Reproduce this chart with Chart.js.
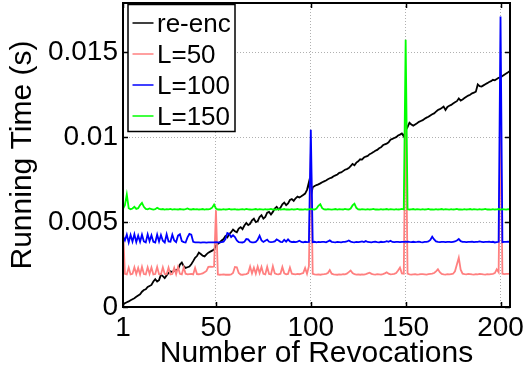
<!DOCTYPE html>
<html>
<head>
<meta charset="utf-8">
<title>Running Time vs Number of Revocations</title>
<script src="https://cdn.jsdelivr.net/npm/chart.js@4.4.1/dist/chart.umd.min.js"></script>
<style>
	html, body { margin: 0; padding: 0; background: #fff; }
</style>
</head>
<body>
<canvas id="runtimeChart" width="525" height="375"></canvas>
<script>
// Running time in seconds, one value per revocation (1..205)
const reEnc = [
	0.00015, 0.00022, 0.00028, 0.00033, 0.00040, 0.00046, 0.00052, 0.00060, 0.00068, 0.00075,
	0.00090, 0.00100, 0.00104, 0.00118, 0.00124, 0.00130, 0.00150, 0.00164, 0.00150, 0.00158,
	0.00190, 0.00182, 0.00170, 0.00186, 0.00200, 0.00210, 0.00206, 0.00214, 0.00218, 0.00222,
	0.00250, 0.00262, 0.00240, 0.00230, 0.00234, 0.00238, 0.00252, 0.00270, 0.00290, 0.00300,
	0.00320, 0.00312, 0.00302, 0.00298, 0.00310, 0.00320, 0.00326, 0.00332, 0.00338, 0.00362,
	0.00372, 0.00380, 0.00392, 0.00400, 0.00418, 0.00410, 0.00430, 0.00440, 0.00456, 0.00446,
	0.00440, 0.00462, 0.00470, 0.00458, 0.00480, 0.00495, 0.00482, 0.00490, 0.00510, 0.00520,
	0.00500, 0.00505, 0.00530, 0.00540, 0.00520, 0.00530, 0.00555, 0.00560, 0.00545, 0.00560,
	0.00580, 0.00590, 0.00575, 0.00585, 0.00605, 0.00615, 0.00600, 0.00610, 0.00630, 0.00636,
	0.00625, 0.00640, 0.00650, 0.00645, 0.00652, 0.00660, 0.00668, 0.00690, 0.00735, 0.00650,
	0.00705, 0.00712, 0.00718, 0.00722, 0.00728, 0.00735, 0.00740, 0.00745, 0.00752, 0.00758,
	0.00762, 0.00770, 0.00775, 0.00780, 0.00790, 0.00792, 0.00800, 0.00808, 0.00812, 0.00818,
	0.00830, 0.00842, 0.00835, 0.00850, 0.00858, 0.00870, 0.00868, 0.00880, 0.00886, 0.00890,
	0.00900, 0.00905, 0.00912, 0.00920, 0.00925, 0.00935, 0.00940, 0.00952, 0.00958, 0.00962,
	0.00970, 0.00985, 0.00990, 0.00995, 0.01000, 0.01010, 0.01015, 0.01022, 0.01005, 0.01040,
	0.01060, 0.01085, 0.01075, 0.01068, 0.01075, 0.01082, 0.01090, 0.01095, 0.01100, 0.01108,
	0.01115, 0.01120, 0.01128, 0.01135, 0.01140, 0.01150, 0.01160, 0.01165, 0.01172, 0.01180,
	0.01160, 0.01178, 0.01185, 0.01190, 0.01198, 0.01205, 0.01212, 0.01228, 0.01215, 0.01222,
	0.01230, 0.01238, 0.01245, 0.01250, 0.01258, 0.01262, 0.01268, 0.01310, 0.01300, 0.01298,
	0.01305, 0.01312, 0.01318, 0.01325, 0.01330, 0.01338, 0.01335, 0.01342, 0.01350, 0.01352,
	0.01360, 0.01368, 0.01375, 0.01382, 0.01390
];

const l50 = [
	0.00466, 0.00195, 0.00192, 0.00232, 0.00192, 0.00195, 0.00234, 0.00194, 0.00230, 0.00192,
	0.00236, 0.00194, 0.00192, 0.00234, 0.00195, 0.00232, 0.00192, 0.00194, 0.00236, 0.00193,
	0.00192, 0.00234, 0.00195, 0.00193, 0.00232, 0.00192, 0.00194, 0.00230, 0.00193, 0.00236,
	0.00195, 0.00192, 0.00234, 0.00196, 0.00192, 0.00194, 0.00195, 0.00192, 0.00230, 0.00194,
	0.00193, 0.00195, 0.00198, 0.00205, 0.00212, 0.00236, 0.00238, 0.00236, 0.00238, 0.00570,
	0.00192, 0.00190, 0.00191, 0.00192, 0.00190, 0.00191, 0.00190, 0.00192, 0.00200, 0.00236,
	0.00234, 0.00200, 0.00191, 0.00190, 0.00192, 0.00194, 0.00200, 0.00238, 0.00198, 0.00232,
	0.00196, 0.00238, 0.00200, 0.00236, 0.00195, 0.00192, 0.00236, 0.00194, 0.00192, 0.00240,
	0.00198, 0.00194, 0.00192, 0.00196, 0.00236, 0.00198, 0.00193, 0.00195, 0.00232, 0.00196,
	0.00194, 0.00192, 0.00195, 0.00193, 0.00196, 0.00200, 0.00230, 0.00196, 0.00240, 0.00900,
	0.00195, 0.00192, 0.00191, 0.00192, 0.00190, 0.00192, 0.00193, 0.00195, 0.00200, 0.00218,
	0.00196, 0.00192, 0.00191, 0.00190, 0.00192, 0.00191, 0.00193, 0.00192, 0.00196, 0.00205,
	0.00215, 0.00200, 0.00193, 0.00191, 0.00192, 0.00190, 0.00192, 0.00191, 0.00194, 0.00198,
	0.00202, 0.00195, 0.00192, 0.00191, 0.00193, 0.00192, 0.00191, 0.00194, 0.00198, 0.00204,
	0.00196, 0.00192, 0.00193, 0.00195, 0.00200, 0.00215, 0.00232, 0.00198, 0.00196, 0.01200,
	0.00196, 0.00192, 0.00191, 0.00192, 0.00193, 0.00191, 0.00192, 0.00194, 0.00193, 0.00192,
	0.00191, 0.00193, 0.00195, 0.00196, 0.00200, 0.00210, 0.00222, 0.00205, 0.00195, 0.00192,
	0.00191, 0.00193, 0.00192, 0.00194, 0.00196, 0.00210, 0.00250, 0.00290, 0.00220, 0.00196,
	0.00193, 0.00192, 0.00195, 0.00194, 0.00192, 0.00191, 0.00193, 0.00192, 0.00195, 0.00194,
	0.00192, 0.00191, 0.00193, 0.00192, 0.00194, 0.00195, 0.00200, 0.00222, 0.00205, 0.01100,
	0.00196, 0.00194, 0.00195, 0.00195, 0.00196
];

const l100 = [
	0.00416, 0.00392, 0.00426, 0.00380, 0.00424, 0.00385, 0.00428, 0.00382, 0.00420, 0.00384,
	0.00426, 0.00386, 0.00380, 0.00428, 0.00388, 0.00422, 0.00384, 0.00380, 0.00426, 0.00386,
	0.00424, 0.00390, 0.00380, 0.00428, 0.00386, 0.00384, 0.00426, 0.00392, 0.00382, 0.00420,
	0.00428, 0.00388, 0.00382, 0.00380, 0.00410, 0.00430, 0.00426, 0.00384, 0.00381, 0.00380,
	0.00380, 0.00379, 0.00380, 0.00381, 0.00379, 0.00380, 0.00381, 0.00380, 0.00380, 0.00382,
	0.00381, 0.00380, 0.00382, 0.00385, 0.00400, 0.00436, 0.00430, 0.00412, 0.00422, 0.00412,
	0.00392, 0.00382, 0.00381, 0.00380, 0.00384, 0.00400, 0.00398, 0.00384, 0.00381, 0.00380,
	0.00383, 0.00396, 0.00420, 0.00392, 0.00383, 0.00390, 0.00397, 0.00384, 0.00382, 0.00383,
	0.00386, 0.00398, 0.00392, 0.00384, 0.00382, 0.00396, 0.00385, 0.00398, 0.00386, 0.00382,
	0.00384, 0.00382, 0.00385, 0.00390, 0.00383, 0.00381, 0.00384, 0.00382, 0.00383, 0.01044,
	0.00382, 0.00384, 0.00381, 0.00383, 0.00382, 0.00384, 0.00383, 0.00381, 0.00386, 0.00392,
	0.00384, 0.00382, 0.00381, 0.00383, 0.00382, 0.00381, 0.00383, 0.00384, 0.00386, 0.00392,
	0.00385, 0.00382, 0.00381, 0.00383, 0.00382, 0.00384, 0.00386, 0.00382, 0.00388, 0.00383,
	0.00382, 0.00381, 0.00383, 0.00385, 0.00382, 0.00381, 0.00384, 0.00382, 0.00383, 0.00388,
	0.00384, 0.00390, 0.00383, 0.00382, 0.00384, 0.00383, 0.00382, 0.00384, 0.00383, 0.00384,
	0.00385, 0.00383, 0.00382, 0.00384, 0.00382, 0.00383, 0.00385, 0.00382, 0.00381, 0.00383,
	0.00384, 0.00386, 0.00395, 0.00414, 0.00398, 0.00386, 0.00383, 0.00382, 0.00384, 0.00383,
	0.00382, 0.00384, 0.00383, 0.00382, 0.00384, 0.00386, 0.00392, 0.00400, 0.00388, 0.00384,
	0.00383, 0.00382, 0.00384, 0.00383, 0.00385, 0.00382, 0.00384, 0.00383, 0.00386, 0.00384,
	0.00382, 0.00384, 0.00383, 0.00385, 0.00382, 0.00384, 0.00380, 0.00382, 0.00384, 0.01711,
	0.00382, 0.00384, 0.00383, 0.00385, 0.00384
];

const l150 = [
	0.00578, 0.00600, 0.00662, 0.00582, 0.00576, 0.00580, 0.00590, 0.00578, 0.00582, 0.00600,
	0.00613, 0.00590, 0.00578, 0.00575, 0.00580, 0.00577, 0.00574, 0.00576, 0.00584, 0.00578,
	0.00575, 0.00577, 0.00574, 0.00576, 0.00575, 0.00578, 0.00574, 0.00576, 0.00575, 0.00574,
	0.00577, 0.00575, 0.00574, 0.00576, 0.00580, 0.00575, 0.00574, 0.00577, 0.00575, 0.00576,
	0.00574, 0.00575, 0.00577, 0.00574, 0.00576, 0.00575, 0.00578, 0.00585, 0.00603, 0.00580,
	0.00574, 0.00575, 0.00573, 0.00576, 0.00574, 0.00575, 0.00578, 0.00574, 0.00575, 0.00576,
	0.00574, 0.00573, 0.00575, 0.00576, 0.00574, 0.00578, 0.00575, 0.00574, 0.00573, 0.00575,
	0.00577, 0.00574, 0.00576, 0.00575, 0.00573, 0.00576, 0.00574, 0.00575, 0.00578, 0.00574,
	0.00575, 0.00573, 0.00576, 0.00574, 0.00575, 0.00577, 0.00574, 0.00575, 0.00573, 0.00576,
	0.00574, 0.00575, 0.00578, 0.00574, 0.00575, 0.00573, 0.00576, 0.00574, 0.00575, 0.00578,
	0.00575, 0.00574, 0.00580, 0.00596, 0.00605, 0.00582, 0.00575, 0.00574, 0.00576, 0.00575,
	0.00573, 0.00575, 0.00577, 0.00574, 0.00576, 0.00575, 0.00574, 0.00578, 0.00575, 0.00574,
	0.00580, 0.00598, 0.00608, 0.00584, 0.00575, 0.00574, 0.00576, 0.00575, 0.00573, 0.00576,
	0.00574, 0.00575, 0.00578, 0.00574, 0.00575, 0.00573, 0.00576, 0.00574, 0.00575, 0.00577,
	0.00574, 0.00576, 0.00575, 0.00573, 0.00576, 0.00574, 0.00575, 0.00578, 0.00575, 0.01574,
	0.00576, 0.00574, 0.00575, 0.00577, 0.00574, 0.00576, 0.00575, 0.00573, 0.00576, 0.00574,
	0.00575, 0.00578, 0.00574, 0.00575, 0.00573, 0.00576, 0.00574, 0.00575, 0.00577, 0.00574,
	0.00576, 0.00575, 0.00573, 0.00576, 0.00574, 0.00575, 0.00578, 0.00574, 0.00575, 0.00573,
	0.00576, 0.00574, 0.00575, 0.00577, 0.00574, 0.00576, 0.00575, 0.00573, 0.00576, 0.00574,
	0.00575, 0.00578, 0.00574, 0.00575, 0.00573, 0.00576, 0.00574, 0.00575, 0.00577, 0.00574,
	0.00576, 0.00575, 0.00573, 0.00576, 0.00575
];

const xTicks = [1, 50, 100, 150, 200];
const yTicks = [0, 0.005, 0.01, 0.015];
const yTickLabels = ["0", "0.005", "0.01", "0.015"];

const revocations = reEnc.map((_, i) => i + 1);
const toPoints = (values) => values.map((v, i) => ({ x: revocations[i], y: v }));

const FONT = '"Liberation Sans", Arial, Helvetica, sans-serif';
Chart.defaults.font.family = FONT;
Chart.defaults.color = "#000";

// Black axes box, inward tick marks and a boxed legend in the upper-left corner
const axesBox = {
	id: "axesBox",
	afterDatasetsDraw(chart) {
		const { ctx, chartArea: a, scales } = chart;
		ctx.save();
		ctx.strokeStyle = "#000";
		ctx.lineWidth = 1.5;

		ctx.beginPath();
		scales.x.ticks.forEach((t) => {
			const px = Math.round(scales.x.getPixelForValue(t.value)) + 0.5;
			ctx.moveTo(px, a.bottom);
			ctx.lineTo(px, a.bottom - 5);
			ctx.moveTo(px, a.top);
			ctx.lineTo(px, a.top + 5);
		});
		scales.y.ticks.forEach((t) => {
			const py = Math.round(scales.y.getPixelForValue(t.value)) + 0.5;
			ctx.moveTo(a.left, py);
			ctx.lineTo(a.left + 5, py);
			ctx.moveTo(a.right, py);
			ctx.lineTo(a.right - 5, py);
		});
		ctx.stroke();

		ctx.lineWidth = 2;
		ctx.strokeRect(a.left, a.top, a.right - a.left, a.bottom - a.top);

		// legend
		const lx = a.left + 5;
		const ly = a.top + 1.5;
		const lw = 107;
		const lh = 127;
		ctx.fillStyle = "#fff";
		ctx.fillRect(lx, ly, lw, lh);
		ctx.lineWidth = 1.5;
		ctx.strokeRect(lx, ly, lw, lh);

		ctx.font = "26px " + FONT;
		ctx.textBaseline = "alphabetic";
		ctx.textAlign = "left";
		chart.data.datasets.forEach((ds, i) => {
			const base = ly + 27.5 + i * 31;
			const mid = base - 9;
			ctx.strokeStyle = ds.borderColor;
			ctx.lineWidth = 1.5;
			ctx.beginPath();
			ctx.moveTo(lx + 4.5, mid);
			ctx.lineTo(lx + 25.5, mid);
			ctx.stroke();
			ctx.fillStyle = "#000";
			ctx.fillText(ds.label, lx + 29, base);
		});
		ctx.restore();
	},
};

const ctx = document.getElementById("runtimeChart").getContext("2d");
new Chart(ctx, {
	type: "line",
	data: {
		datasets: [
			{ label: "re-enc", data: toPoints(reEnc), borderColor: "#000000", order: 4 },
			{ label: "L=50", data: toPoints(l50), borderColor: "#ff8080", order: 3 },
			{ label: "L=100", data: toPoints(l100), borderColor: "#0000ff", order: 2 },
			{ label: "L=150", data: toPoints(l150), borderColor: "#00ff00", order: 1 },
		],
	},
	options: {
		responsive: false,
		animation: false,
		layout: { padding: { top: 3, right: 15, bottom: 0, left: 0 } },
		elements: {
			point: { radius: 0 },
			line: { borderWidth: 1.8, tension: 0 },
		},
		plugins: {
			legend: { display: false },
			tooltip: { enabled: false },
		},
		scales: {
			x: {
				type: "linear",
				min: 1,
				max: 205,
				afterBuildTicks: (scale) => {
					scale.ticks = xTicks.map((v) => ({ value: v }));
				},
				afterFit: (scale) => {
					scale.height = 68;
					scale.paddingLeft = 0;
					scale.paddingRight = 0;
				},
				grid: { color: "#b0b0b0", lineWidth: 1, drawTicks: false },
				border: { display: false, dash: [1, 2] },
				ticks: {
					color: "#000",
					font: { size: 28 },
					padding: 4.5,
					maxRotation: 0,
					autoSkip: false,
					callback: (v) => String(v),
				},
				title: {
					display: true,
					text: "Number of Revocations",
					color: "#000",
					font: { size: 30 },
					padding: { top: 0, bottom: 3 },
				},
			},
			y: {
				min: 0,
				max: 0.0179,
				afterBuildTicks: (scale) => {
					scale.ticks = yTicks.map((v) => ({ value: v }));
				},
				afterFit: (scale) => {
					scale.width = 123;
					scale.paddingTop = 0;
					scale.paddingBottom = 0;
				},
				grid: { color: "#b0b0b0", lineWidth: 1, drawTicks: false },
				border: { display: false, dash: [1, 2] },
				ticks: {
					color: "#000",
					font: { size: 28 },
					padding: 5,
					callback: (v) => yTickLabels[yTicks.indexOf(v)],
				},
				title: {
					display: true,
					text: "Running Time (s)",
					color: "#000",
					font: { size: 30 },
					padding: { top: 5, bottom: 0 },
				},
			},
		},
	},
	plugins: [axesBox],
});
</script>
</body>
</html>
